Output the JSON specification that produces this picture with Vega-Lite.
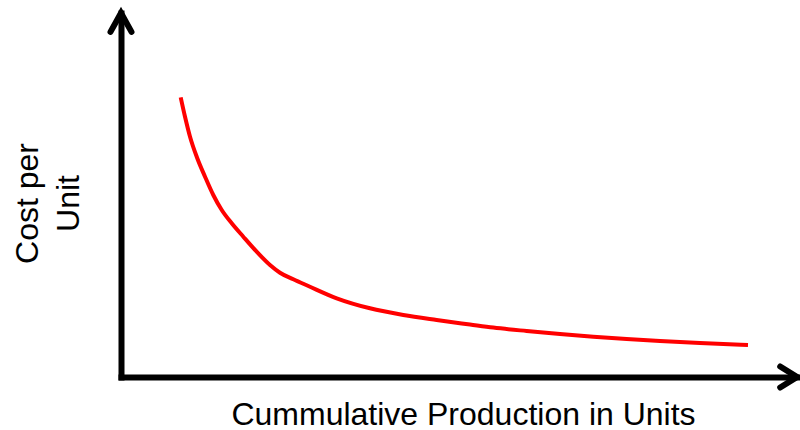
{
  "$schema": "https://vega.github.io/schema/vega-lite/v6.json",
  "width": 676,
  "height": 364,
  "autosize": {"type": "none"},
  "padding": {"left": 121, "top": 13, "right": 3, "bottom": 53},
  "background": "white",
  "config": {
    "view": {"stroke": null},
    "axis": {
      "grid": false,
      "ticks": false,
      "labels": false,
      "domainColor": "black",
      "domainWidth": 6,
      "domainCap": "square",
      "titleFont": "Liberation Sans",
      "titleFontSize": 32,
      "titleFontWeight": "normal",
      "titleColor": "black"
    }
  },
  "layer": [
    {
      "data": {
        "values": [
          {"production": 8.83, "cost": 76.84},
          {"production": 9.47, "cost": 71.51},
          {"production": 10.21, "cost": 66.02},
          {"production": 11.2, "cost": 60.52},
          {"production": 12.43, "cost": 55.03},
          {"production": 13.65, "cost": 50.0},
          {"production": 14.9, "cost": 45.88},
          {"production": 16.38, "cost": 42.23},
          {"production": 18.09, "cost": 38.54},
          {"production": 20.07, "cost": 34.42},
          {"production": 22.04, "cost": 30.77},
          {"production": 23.52, "cost": 28.65},
          {"production": 25.49, "cost": 26.84},
          {"production": 27.71, "cost": 25.0},
          {"production": 31.91, "cost": 21.62},
          {"production": 36.83, "cost": 18.87},
          {"production": 41.76, "cost": 17.03},
          {"production": 46.7, "cost": 15.66},
          {"production": 51.63, "cost": 14.42},
          {"production": 55.07, "cost": 13.57},
          {"production": 60.01, "cost": 12.64},
          {"production": 64.94, "cost": 11.81},
          {"production": 69.87, "cost": 11.07},
          {"production": 74.81, "cost": 10.44},
          {"production": 79.73, "cost": 9.89},
          {"production": 85.65, "cost": 9.34},
          {"production": 92.75, "cost": 8.79}
        ]
      },
      "mark": {"type": "line", "color": "#ff0000", "strokeWidth": 4, "interpolate": "monotone", "strokeCap": "butt"},
      "encoding": {
        "x": {
          "field": "production",
          "type": "quantitative",
          "scale": {"domain": [0, 100], "nice": false, "zero": false},
          "axis": {"title": "Cummulative Production in Units", "titleX": 342, "titleY": 47, "titleBaseline": "alphabetic", "titleAlign": "center"}
        },
        "y": {
          "field": "cost",
          "type": "quantitative",
          "scale": {"domain": [0, 100], "nice": false, "zero": false},
          "axis": {"title": ["Cost per", "Unit"], "titleX": -84, "titleY": 190, "titleAngle": -90, "titleBaseline": "alphabetic", "titleAlign": "center", "titleLineHeight": 41}
        }
      }
    },
    {
      "data": {"values": [{"production": 0, "cost": 100}]},
      "mark": {"type": "point", "shape": "M-1,1.8L0,0L1,1.8", "filled": false, "stroke": "black", "strokeWidth": 6, "strokeCap": "round", "strokeJoin": "miter", "size": 441, "opacity": 1},
      "encoding": {
        "x": {"field": "production", "type": "quantitative"},
        "y": {"field": "cost", "type": "quantitative"}
      }
    },
    {
      "data": {"values": [{"production": 100, "cost": 0}]},
      "mark": {"type": "point", "shape": "M-1.6,-1L0,0L-1.6,1", "filled": false, "stroke": "black", "strokeWidth": 6, "strokeCap": "round", "strokeJoin": "miter", "size": 441, "opacity": 1},
      "encoding": {
        "x": {"field": "production", "type": "quantitative"},
        "y": {"field": "cost", "type": "quantitative"}
      }
    }
  ]
}
